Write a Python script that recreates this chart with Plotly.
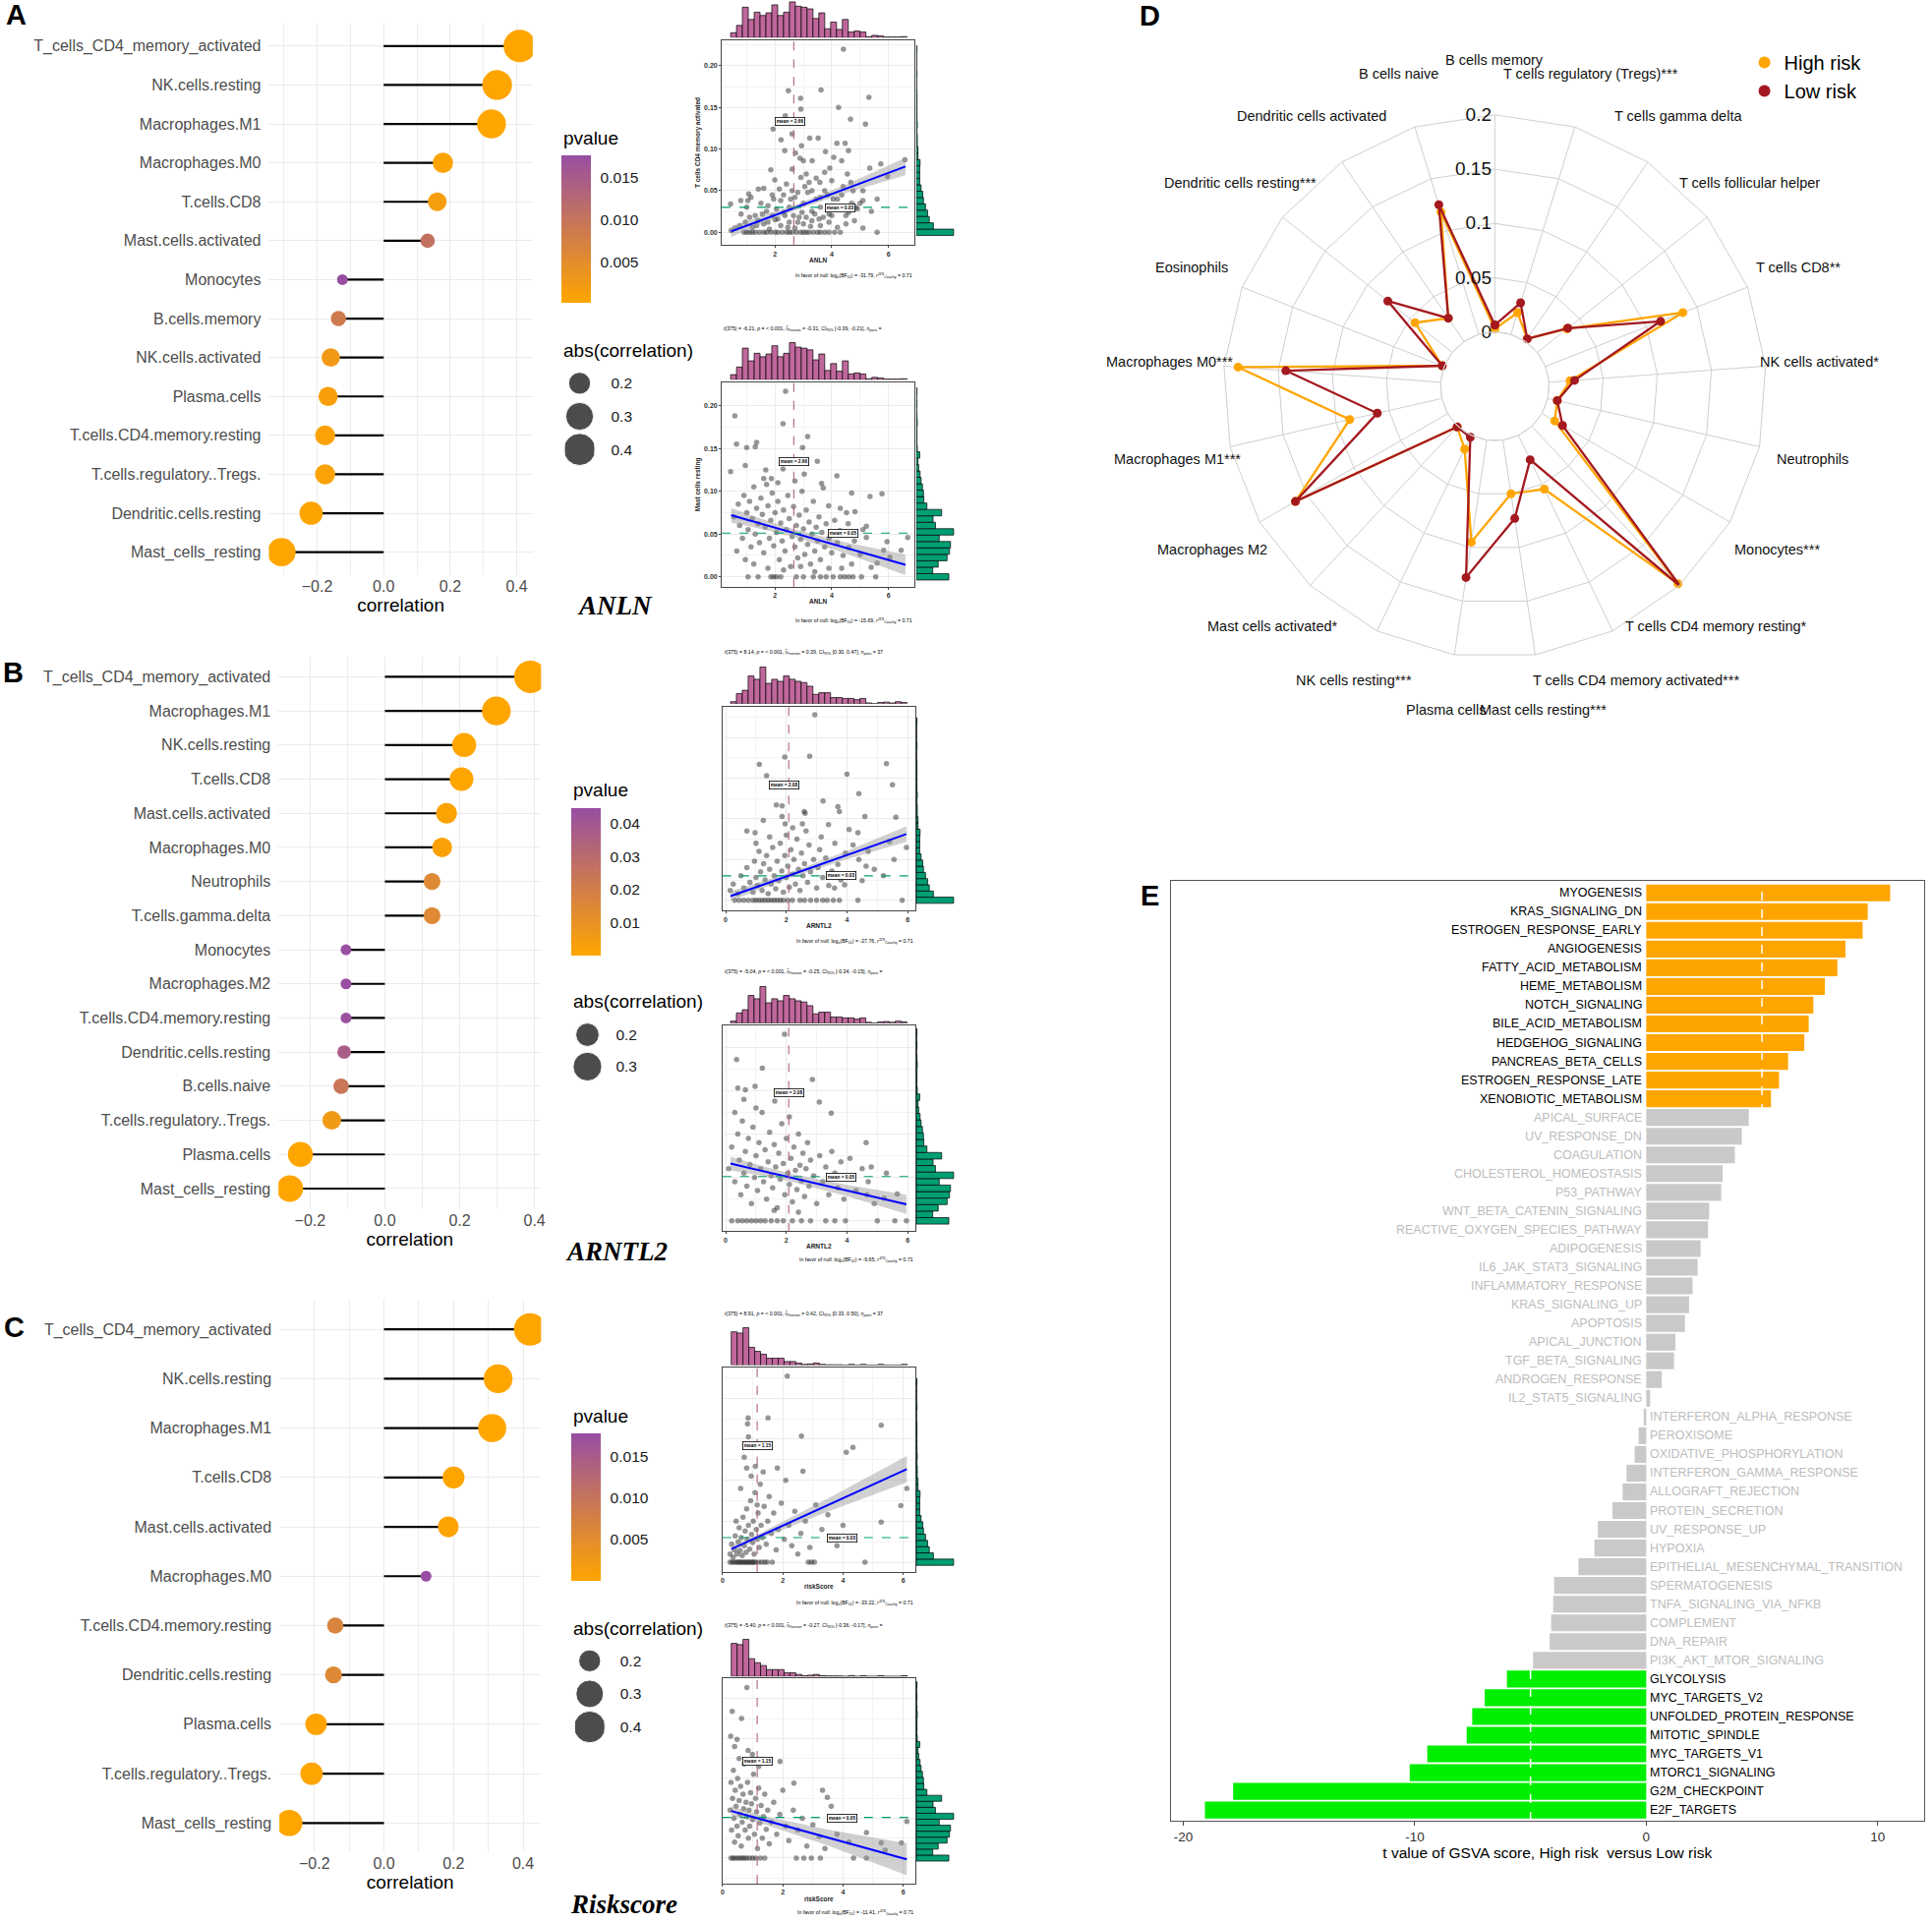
import math
import plotly.graph_objects as go

W, H = 1965, 1955
SANS = "Liberation Sans, Arial, Helvetica, sans-serif"
SERIF = "Liberation Serif, Times New Roman, serif"

ORANGE = "#FFA500"
PURPLE = "#984EA3"
XFILL = "#C0679C"
YFILL = "#009E73"
LOWRISK = "#A3191F"

# ===================== DATA =====================
# ---- lollipop panels (correlation with immune cells) ----
A_cells = ["T_cells_CD4_memory_activated", "NK.cells.resting", "Macrophages.M1", "Macrophages.M0",
           "T.cells.CD8", "Mast.cells.activated", "Monocytes", "B.cells.memory", "NK.cells.activated",
           "Plasma.cells", "T.cells.CD4.memory.resting", "T.cells.regulatory..Tregs.",
           "Dendritic.cells.resting", "Mast_cells_resting"]
A_corr = [0.409, 0.341, 0.324, 0.178, 0.161, 0.132, -0.124, -0.136, -0.159, -0.167, -0.176, -0.176, -0.218, -0.307]
A_pval = [0.0001, 0.0001, 0.0001, 0.0005, 0.0015, 0.0105, 0.0176, 0.0085, 0.0025, 0.0012, 0.0007, 0.0007, 0.0002, 0.0001]

B_cells = ["T_cells_CD4_memory_activated", "Macrophages.M1", "NK.cells.resting", "T.cells.CD8",
           "Mast.cells.activated", "Macrophages.M0", "Neutrophils", "T.cells.gamma.delta", "Monocytes",
           "Macrophages.M2", "T.cells.CD4.memory.resting", "Dendritic.cells.resting", "B.cells.naive",
           "T.cells.regulatory..Tregs.", "Plasma.cells", "Mast_cells_resting"]
B_corr = [0.389, 0.298, 0.212, 0.205, 0.165, 0.153, 0.126, 0.126, -0.104, -0.104, -0.104, -0.109, -0.117, -0.142, -0.226, -0.254]
B_pval = [0.0001, 0.0001, 0.0001, 0.0001, 0.0012, 0.002, 0.0145, 0.0145, 0.0445, 0.044, 0.0435, 0.037, 0.024, 0.006, 0.0001, 0.0001]

C_cells = ["T_cells_CD4_memory_activated", "NK.cells.resting", "Macrophages.M1", "T.cells.CD8",
           "Mast.cells.activated", "Macrophages.M0", "T.cells.CD4.memory.resting", "Dendritic.cells.resting",
           "Plasma.cells", "T.cells.regulatory..Tregs.", "Mast_cells_resting"]
C_corr = [0.420, 0.328, 0.311, 0.200, 0.185, 0.121, -0.140, -0.145, -0.195, -0.208, -0.272]
C_pval = [0.0, 0.0, 0.0, 0.0001, 0.0003, 0.0178, 0.0068, 0.0058, 0.0002, 0.0001, 0.0]

# ---- scatter panels ----
# marginal histograms (bar heights)
ANLN_hist = [15, 37, 92, 55, 77, 67, 75, 99, 67, 77, 108, 95, 92, 87, 58, 75, 27, 47, 25, 55, 17, 20, 17, 3, 7, 5, 2, 2, 2, 3]
ARNTL2_hist = [5, 25, 33, 68, 60, 90, 50, 60, 55, 68, 60, 55, 52, 43, 23, 27, 27, 15, 15, 13, 13, 10, 13, 2, 0, 3, 4, 2, 5, 3]
RISK_hist = [82, 79, 92, 44, 34, 27, 17, 17, 17, 9, 9, 5, 2, 3, 5, 2, 1, 1, 1, 0, 2, 0, 2, 0, 0, 2, 0, 0, 0, 2]
CD4act_hist = [109, 50, 38, 33, 27, 21, 19, 14, 10, 10, 10, 11, 5, 5, 3, 3, 2, 3, 2, 2, 2, 2, 2, 1, 1, 2, 1, 1, 1, 2]
MastRest_hist = [95, 48, 64, 90, 97, 100, 67, 109, 56, 49, 74, 31, 22, 21, 18, 14, 11, 7, 5, 10, 3, 2, 2, 2, 3, 2, 1, 2, 1, 2]
# first bin centre, bin width
ANLN_bins = (0.536, 0.2075)
ARNTL2_bins = (0.257, 0.194)
RISK_bins = (0.385, 0.195)
CD4act_bins = (0.0, 0.0076)
MastRest_bins = (0.0, 0.0075)

A1_x = [4.41, 2.47, 3.62, 5.31, 2.90, 2.91, 4.24, 2.36, 4.66, 5.19, 1.93, 2.60, 2.21, 3.22, 3.52, 2.93, 4.18, 4.47, 2.34, 3.78,
        4.59, 2.88, 3.00, 3.31, 4.07, 4.35, 1.85, 2.60, 3.93, 5.34, 5.73, 6.58, 5.97, 1.99, 2.91, 3.58, 4.55, 4.67, 1.07, 1.41,
        0.79, 0.43, 1.04, 1.60, 2.72, 3.10, 3.45, 3.75, 4.00, 4.75, 5.00, 5.10, 5.60, 2.40, 3.05, 2.30, 1.95, 3.30, 3.85, 4.20,
        4.40, 2.80, 2.55, 1.75, 2.15, 3.60, 4.85, 3.20,
        0.9, 1.0, 1.1, 1.2, 1.3, 1.45, 1.6, 1.7, 1.85, 2.0, 2.1, 2.25, 2.4, 2.5, 2.6, 2.75, 2.9, 3.0, 3.1, 3.2, 3.35, 3.5, 3.6,
        3.75, 3.9, 4.1, 4.3, 5.6,
        0.45, 0.6, 0.75, 0.95, 1.2, 1.4, 1.6, 1.8, 2.0, 2.2, 2.5, 2.7, 3.0, 3.3, 3.6, 3.9, 4.2, 4.5, 4.8, 5.1,
        0.8, 1.0, 1.3, 1.5, 1.7, 1.9, 2.05, 2.2, 2.35, 2.5, 2.7, 2.85, 3.0, 3.15, 3.3, 3.45, 3.6, 3.75, 3.9, 4.05, 4.2, 4.35,
        4.5, 4.7, 4.9, 5.1, 5.4, 1.15, 2.6, 3.55,
        1.1, 1.35, 1.55, 1.75, 1.9, 2.1, 2.3, 2.45, 2.65, 2.8, 2.95, 3.1, 3.25, 3.4, 3.7, 3.85, 4.0, 4.6]
A1_y = [0.220, 0.170, 0.171, 0.162, 0.161, 0.148, 0.150, 0.140, 0.136, 0.130, 0.124, 0.118, 0.111, 0.113, 0.113, 0.104, 0.107,
        0.107, 0.098, 0.097, 0.098, 0.089, 0.086, 0.086, 0.090, 0.086, 0.075, 0.076, 0.077, 0.077, 0.082, 0.087, 0.067, 0.063,
        0.066, 0.060, 0.070, 0.060, 0.046, 0.052, 0.038, 0.034, 0.038, 0.053, 0.095, 0.070, 0.065, 0.072, 0.062, 0.050, 0.035,
        0.050, 0.040, 0.058, 0.055, 0.045, 0.040, 0.050, 0.045, 0.040, 0.055, 0.048, 0.040, 0.032, 0.052, 0.042, 0.030, 0.060,
        0, 0, 0, 0, 0, 0, 0, 0, 0, 0, 0, 0, 0, 0, 0, 0, 0, 0, 0, 0, 0, 0, 0, 0, 0, 0, 0, 0,
        0.002, 0.005, 0.008, 0.012, 0.006, 0.014, 0.010, 0.004, 0.015, 0.008, 0.012, 0.005, 0.010, 0.014, 0.008, 0.012, 0.006,
        0.010, 0.014, 0.005,
        0.022, 0.030, 0.020, 0.035, 0.025, 0.045, 0.028, 0.038, 0.020, 0.030, 0.042, 0.018, 0.035, 0.048, 0.025, 0.040, 0.030,
        0.050, 0.022, 0.040, 0.030, 0.045, 0.020, 0.035, 0.028, 0.038, 0.025, 0.042, 0.050, 0.016,
        0.018, 0.008, 0.022, 0.012, 0.020, 0.016, 0.024, 0.006, 0.020, 0.012, 0.024, 0.018, 0.007, 0.022, 0.018, 0.030, 0.020, 0.024]

A2_x = [2.37, 0.58, 2.28, 3.15, 0.64, 1.35, 1.00, 1.30, 2.97, 3.49, 2.28, 0.95, 0.43, 3.03, 4.18, 3.64, 1.67, 1.87, 4.70, 5.77,
        3.89, 5.35, 4.52, 4.82, 4.29, 4.58, 5.22, 5.22, 5.95, 6.05, 6.68, 5.83, 6.45, 5.60, 5.39, 4.35,
        1.05, 1.4, 1.85, 1.95, 2.05, 2.2, 2.75, 3.0, 3.35, 3.6, 3.8, 4.05, 4.3, 4.45, 4.6, 4.75, 5.05, 5.55,
        0.55, 0.70, 0.75, 0.85, 0.90, 1.00, 1.05, 1.10, 1.15, 1.20, 1.25, 1.30, 1.35, 1.40, 1.45, 1.50, 1.55, 1.60, 1.65, 1.70,
        1.75, 1.80, 1.85, 1.90, 1.95, 2.00, 2.05, 2.10, 2.15, 2.20, 2.25, 2.30, 2.35, 2.40, 2.45, 2.50, 2.55, 2.60, 2.65, 2.70,
        2.75, 2.80, 2.85, 2.90, 2.95, 3.00, 3.05, 3.10, 3.15, 3.20, 3.25, 3.30, 3.35, 3.40, 3.45, 3.50, 3.55, 3.60, 3.65, 3.70,
        3.75, 3.80, 3.90, 4.00, 4.10, 4.20, 4.30, 4.40, 4.50, 4.60, 4.70, 4.80, 5.00, 5.10, 1.60, 2.10, 2.70, 0.65, 0.95, 1.25,
        1.75, 2.30, 2.90, 3.40, 3.90]
A2_y = [0.217, 0.188, 0.179, 0.164, 0.155, 0.157, 0.151, 0.152, 0.151, 0.135, 0.126, 0.130, 0.123, 0.120, 0.118, 0.109, 0.125,
        0.115, 0.098, 0.097, 0.083, 0.094, 0.075, 0.076, 0.054, 0.062, 0.059, 0.046, 0.041, 0.023, 0.046, 0.031, 0.031, 0.016,
        0.011, 0.010,
        0, 0, 0, 0, 0, 0, 0, 0, 0, 0, 0, 0, 0, 0, 0, 0, 0, 0,
        0.070, 0.085, 0.060, 0.045, 0.095, 0.075, 0.055, 0.088, 0.035, 0.068, 0.105, 0.050, 0.080, 0.062, 0.040, 0.092, 0.073,
        0.028, 0.058, 0.108, 0.083, 0.045, 0.066, 0.098, 0.036, 0.075, 0.052, 0.088, 0.020, 0.063, 0.042, 0.078, 0.030, 0.055,
        0.095, 0.068, 0.012, 0.047, 0.082, 0.035, 0.060, 0.022, 0.072, 0.044, 0.100, 0.056, 0.026, 0.078, 0.038, 0.064, 0.015,
        0.050, 0.088, 0.030, 0.058, 0.042, 0.070, 0.020, 0.052, 0.104, 0.035, 0.062, 0.045, 0.028, 0.066, 0.040, 0.080, 0.025,
        0.050, 0.034, 0.015, 0.042, 0.026, 0.055, 0.115, 0.110, 0.112, 0.030, 0.020, 0.015, 0.010, 0.008, 0.012, 0.006, 0.010]

B1_x = [2.94, 1.95, 2.77, 1.11, 5.30, 4.00, 1.35, 5.50, 4.39, 1.67, 1.86, 3.21, 3.70, 2.62, 1.24, 1.86, 2.59, 3.75, 4.59, 5.61,
        0.70, 0.97, 1.96, 2.21, 2.53, 3.39, 4.07, 4.36, 5.96, 5.55, 4.63, 4.39, 3.92, 3.59,
        0.3, 0.45, 0.6, 0.75, 0.9, 1.0, 1.1, 1.2, 1.3, 1.4, 1.5, 1.6, 1.7, 1.8, 1.9, 2.05, 2.2, 2.45, 2.6, 2.8, 3.0, 3.2, 3.35,
        3.55, 3.75, 4.36, 5.82,
        0.15, 0.25, 0.40, 0.50, 0.60, 0.70, 0.80, 0.90, 0.95, 1.00, 1.05, 1.10, 1.15, 1.20, 1.25, 1.30, 1.35, 1.40, 1.45, 1.50,
        1.55, 1.60, 1.65, 1.70, 1.75, 1.80, 1.85, 1.90, 1.95, 2.00, 2.05, 2.10, 2.15, 2.20, 2.25, 2.30, 2.35, 2.40, 2.45, 2.50,
        2.55, 2.60, 2.70, 2.75, 2.80, 2.90, 3.00, 3.05, 3.10, 3.20, 3.30, 3.40, 3.50, 3.60, 3.70, 3.80, 3.95, 4.10, 4.20, 4.50,
        4.70, 4.90, 5.20, 5.40, 1.00, 1.45, 2.00, 2.65, 3.15]
B1_y = [0.228, 0.176, 0.177, 0.167, 0.168, 0.155, 0.153, 0.142, 0.131, 0.117, 0.116, 0.122, 0.115, 0.107, 0.098, 0.103, 0.109,
        0.109, 0.103, 0.102, 0.085, 0.083, 0.094, 0.089, 0.094, 0.093, 0.087, 0.083, 0.065, 0.050, 0.042, 0.050, 0.019, 0.015,
        0, 0, 0, 0, 0, 0, 0, 0, 0, 0, 0, 0, 0, 0, 0, 0, 0, 0, 0, 0, 0, 0, 0, 0, 0, 0, 0,
        0.012, 0.020, 0.008, 0.030, 0.015, 0.040, 0.022, 0.010, 0.048, 0.028, 0.018, 0.060, 0.035, 0.012, 0.045, 0.025, 0.055,
        0.008, 0.038, 0.020, 0.065, 0.030, 0.014, 0.048, 0.024, 0.070, 0.036, 0.010, 0.055, 0.028, 0.042, 0.016, 0.062, 0.032,
        0.050, 0.020, 0.075, 0.038, 0.012, 0.058, 0.030, 0.045, 0.022, 0.068, 0.035, 0.050, 0.015, 0.040, 0.062, 0.028, 0.052,
        0.018, 0.036, 0.070, 0.044, 0.025, 0.058, 0.032, 0.068, 0.024, 0.060, 0.038, 0.030, 0.072, 0.070, 0.078, 0.080, 0.085,
        0.078]

B2_x = [1.94, 0.36, 1.21, 2.86, 0.40, 0.65, 0.97, 3.09, 1.62, 3.48, 4.63, 4.80, 4.66, 5.23, 5.66,
        0.2, 0.4, 0.55, 0.7, 0.85, 1.0, 1.15, 1.3, 1.5, 1.7, 1.9, 2.2, 2.5, 2.8, 3.3, 3.6, 3.95, 5.0, 5.58, 5.96,
        0.10, 0.20, 0.30, 0.40, 0.45, 0.50, 0.55, 0.60, 0.65, 0.70, 0.75, 0.80, 0.85, 0.90, 0.95, 1.00, 1.05, 1.10, 1.15, 1.20,
        1.25, 1.30, 1.35, 1.40, 1.45, 1.50, 1.55, 1.60, 1.65, 1.70, 1.75, 1.80, 1.85, 1.90, 1.95, 2.00, 2.05, 2.10, 2.15, 2.20,
        2.25, 2.30, 2.35, 2.40, 2.45, 2.50, 2.55, 2.60, 2.65, 2.70, 2.75, 2.80, 2.90, 3.00, 3.10, 3.20, 3.30, 3.40, 3.50, 3.60,
        3.70, 3.80, 3.90, 4.00, 4.10, 4.30, 4.50, 4.70, 4.90, 5.30, 1.00, 0.60, 2.10, 0.30, 1.60, 2.40]
B2_y = [0.215, 0.186, 0.176, 0.163, 0.153, 0.151, 0.155, 0.137, 0.138, 0.124, 0.090, 0.062, 0.030, 0.026, 0.031,
        0, 0, 0, 0, 0, 0, 0, 0, 0, 0, 0, 0, 0, 0, 0, 0, 0, 0, 0, 0,
        0.060, 0.085, 0.045, 0.100, 0.070, 0.030, 0.115, 0.055, 0.080, 0.040, 0.095, 0.065, 0.020, 0.108, 0.050, 0.075, 0.035,
        0.090, 0.060, 0.125, 0.045, 0.082, 0.025, 0.068, 0.102, 0.052, 0.038, 0.088, 0.062, 0.015, 0.078, 0.048, 0.112, 0.066,
        0.030, 0.095, 0.055, 0.042, 0.072, 0.022, 0.085, 0.058, 0.036, 0.100, 0.064, 0.046, 0.078, 0.028, 0.060, 0.090, 0.040,
        0.070, 0.052, 0.020, 0.075, 0.045, 0.062, 0.030, 0.080, 0.055, 0.038, 0.068, 0.025, 0.050, 0.072, 0.035, 0.060, 0.045,
        0.020, 0.055, 0.130, 0.140, 0.120, 0.125, 0.012, 0.010]

C1_x = [2.15, 0.85, 1.51, 0.83, 5.27, 2.62, 0.86, 4.33, 4.11, 0.72, 1.09, 0.80, 1.82, 2.67, 6.12, 5.92, 5.27, 4.73, 3.05,
        0.25, 0.32, 0.38, 0.45, 0.5, 0.55, 0.6, 0.65, 0.7, 0.75, 0.8, 0.85, 0.9, 0.95, 1.0, 1.05, 1.1, 1.2, 1.3, 1.4, 1.48,
        1.65, 2.85, 2.95,
        0.25, 0.30, 0.35, 0.40, 0.42, 0.48, 0.52, 0.55, 0.58, 0.62, 0.65, 0.68, 0.72, 0.75, 0.78, 0.80, 0.82, 0.86, 0.90, 0.93,
        0.96, 1.00, 1.02, 1.05, 1.08, 1.12, 1.15, 1.18, 1.22, 1.25, 1.28, 1.32, 1.38, 1.45, 1.50, 1.55, 1.62, 1.70, 1.78, 1.85,
        1.95, 2.05, 2.10, 2.20, 2.30, 2.40, 2.50, 2.60, 2.75, 2.90, 3.10, 3.30, 3.50, 3.80, 4.00, 0.60, 0.95, 1.15, 1.35, 0.45]
C1_y = [0.227, 0.176, 0.176, 0.169, 0.167, 0.154, 0.153, 0.140, 0.134, 0.128, 0.117, 0.115, 0.115, 0.111, 0.090, 0.069, 0.049,
        0.0, 0.0,
        0, 0, 0, 0, 0, 0, 0, 0, 0, 0, 0, 0, 0, 0, 0, 0, 0, 0, 0, 0, 0, 0, 0, 0,
        0.010, 0.022, 0.006, 0.015, 0.032, 0.010, 0.025, 0.042, 0.014, 0.030, 0.008, 0.055, 0.020, 0.038, 0.012, 0.065, 0.028,
        0.045, 0.016, 0.075, 0.034, 0.024, 0.050, 0.010, 0.085, 0.040, 0.028, 0.060, 0.018, 0.095, 0.045, 0.030, 0.068, 0.022,
        0.050, 0.080, 0.035, 0.060, 0.015, 0.040, 0.072, 0.028, 0.100, 0.045, 0.020, 0.062, 0.010, 0.035, 0.050, 0.018, 0.070,
        0.040, 0.058, 0.020, 0.045, 0.090, 0.105, 0.070, 0.110, 0.050]

C2_x = [0.81, 0.32, 0.63, 0.27, 0.48, 0.99, 1.91, 2.37, 3.32, 3.48, 3.61, 6.12, 4.78, 5.27, 5.94, 3.21,
        0.28, 0.35, 0.42, 0.5, 0.58, 0.65, 0.72, 0.8, 0.9, 1.0, 1.1, 1.25, 1.4, 2.45, 2.7, 2.95, 3.25, 4.35, 4.78,
        0.25, 0.28, 0.30, 0.33, 0.36, 0.38, 0.40, 0.42, 0.45, 0.48, 0.50, 0.52, 0.55, 0.58, 0.60, 0.62, 0.65, 0.68, 0.70, 0.72,
        0.75, 0.78, 0.80, 0.83, 0.86, 0.88, 0.90, 0.93, 0.96, 1.00, 1.03, 1.06, 1.10, 1.13, 1.16, 1.20, 1.24, 1.28, 1.32, 1.36,
        1.40, 1.45, 1.50, 1.55, 1.62, 1.70, 1.80, 1.90, 2.00, 2.10, 2.20, 2.35, 2.50, 2.65, 2.80, 3.00, 3.40, 3.80, 4.20, 5.40,
        0.55, 0.85, 0.40, 1.20]
C2_y = [0.214, 0.184, 0.175, 0.153, 0.149, 0.130, 0.121, 0.094, 0.085, 0.076, 0.065, 0.046, 0.032, 0.019, 0.019, 0.027,
        0, 0, 0, 0, 0, 0, 0, 0, 0, 0, 0, 0, 0, 0, 0, 0, 0, 0, 0,
        0.060, 0.095, 0.035, 0.075, 0.110, 0.050, 0.020, 0.085, 0.065, 0.040, 0.100, 0.028, 0.072, 0.055, 0.090, 0.015, 0.045,
        0.080, 0.062, 0.118, 0.035, 0.070, 0.052, 0.095, 0.025, 0.060, 0.040, 0.082, 0.068, 0.048, 0.105, 0.030, 0.075, 0.058,
        0.012, 0.088, 0.044, 0.066, 0.025, 0.052, 0.080, 0.036, 0.060, 0.018, 0.045, 0.070, 0.030, 0.055, 0.085, 0.040, 0.022,
        0.060, 0.035, 0.050, 0.015, 0.042, 0.012, 0.030, 0.020, 0.010, 0.125, 0.135, 0.140, 0.115]

# regression fits (x knots, fitted values, CI half widths)
A1_fit = ([0.45, 1.5, 2.66, 4.5, 6.6], [0.001, 0.0143, 0.029, 0.0523, 0.079], [0.0065, 0.0045, 0.0032, 0.005, 0.0105])
A2_fit = ([0.45, 1.5, 2.66, 4.5, 6.6], [0.072, 0.0621, 0.0512, 0.0338, 0.014], [0.0085, 0.006, 0.0045, 0.0065, 0.012])
B1_fit = ([0.16, 1.2, 2.08, 4.0, 5.96], [0.005, 0.0187, 0.0303, 0.0555, 0.0813], [0.006, 0.0042, 0.0033, 0.005, 0.0095])
B2_fit = ([0.16, 1.2, 2.08, 4.0, 5.96], [0.066, 0.0576, 0.0504, 0.0349, 0.019], [0.008, 0.0055, 0.0045, 0.0065, 0.011])
C1_fit = ([0.29, 0.8, 1.15, 3.5, 6.12], [0.016, 0.0245, 0.0304, 0.0697, 0.1135], [0.004, 0.0035, 0.0033, 0.008, 0.016])
C2_fit = ([0.29, 0.8, 1.15, 3.5, 6.12], [0.059, 0.0537, 0.0501, 0.0257, -0.0015], [0.006, 0.005, 0.0048, 0.01, 0.02])

MEAN_ANLN, MEAN_ARNTL2, MEAN_RISK = 2.66, 2.08, 1.15
MEAN_CD4, MEAN_MAST = 0.030, 0.051

SUBTITLES = {
    "A2": "<i>t</i>(375) = -6.21, <i>p</i> = < 0.001, <i>r&#770;</i><sub>Pearson</sub> = -0.31, CI<sub>95%</sub> [-0.39, -0.21], <i>n</i><sub>pairs</sub> =",
    "B1": "<i>t</i>(375) = 8.14, <i>p</i> = < 0.001, <i>r&#770;</i><sub>Pearson</sub> = 0.39, CI<sub>95%</sub> [0.30, 0.47], <i>n</i><sub>pairs</sub> = 37",
    "B2": "<i>t</i>(375) = -5.04, <i>p</i> = < 0.001, <i>r&#770;</i><sub>Pearson</sub> = -0.25, CI<sub>95%</sub> [-0.34, -0.15], <i>n</i><sub>pairs</sub> =",
    "C1": "<i>t</i>(375) = 8.91, <i>p</i> = < 0.001, <i>r&#770;</i><sub>Pearson</sub> = 0.42, CI<sub>95%</sub> [0.33, 0.50], <i>n</i><sub>pairs</sub> = 37",
    "C2": "<i>t</i>(375) = -5.40, <i>p</i> = < 0.001, <i>r&#770;</i><sub>Pearson</sub> = -0.27, CI<sub>95%</sub> [-0.36, -0.17], <i>n</i><sub>pairs</sub> =",
}
BF01 = {"A1": "-31.79", "A2": "-15.69", "B1": "-27.76", "B2": "-9.65", "C1": "-33.22", "C2": "-11.41"}

# ---- radar (D) ----
RADAR_CATS = ["B cells memory", "T cells regulatory (Tregs)***", "T cells gamma delta", "T cells follicular helper",
              "T cells CD8**", "NK cells activated*", "Neutrophils", "Monocytes***", "T cells CD4 memory resting*",
              "T cells CD4 memory activated***", "Mast cells resting***", "Plasma cells", "NK cells resting***",
              "Mast cells activated*", "Macrophages M2", "Macrophages M1***", "Macrophages M0***", "Eosinophils",
              "Dendritic cells resting***", "Dendritic cells activated", "B cells naive"]
HIGH_RISK = [0.003, 0.021, 0.003, 0.035, 0.136, 0.0195, 0.009, 0.0137, 0.198, 0.055, 0.050, 0.095, 0.014, 0.001,
             0.162, 0.087, 0.187, 0.002, 0.044, 0.026, 0.118]
LOW_RISK = [0.0065, 0.0305, 0.003, 0.036, 0.114, 0.0236, 0.009, 0.022, 0.201, 0.025, 0.073, 0.128, 0.002, 0.001,
            0.162, 0.061, 0.143, 0.002, 0.076, 0.026, 0.125]
RADAR_TICKS = [0, 0.05, 0.1, 0.15, 0.2]

# ---- GSVA bars (E) ----
E_names = ["MYOGENESIS", "KRAS_SIGNALING_DN", "ESTROGEN_RESPONSE_EARLY", "ANGIOGENESIS", "FATTY_ACID_METABOLISM",
           "HEME_METABOLISM", "NOTCH_SIGNALING", "BILE_ACID_METABOLISM", "HEDGEHOG_SIGNALING", "PANCREAS_BETA_CELLS",
           "ESTROGEN_RESPONSE_LATE", "XENOBIOTIC_METABOLISM", "APICAL_SURFACE", "UV_RESPONSE_DN", "COAGULATION",
           "CHOLESTEROL_HOMEOSTASIS", "P53_PATHWAY", "WNT_BETA_CATENIN_SIGNALING", "REACTIVE_OXYGEN_SPECIES_PATHWAY",
           "ADIPOGENESIS", "IL6_JAK_STAT3_SIGNALING", "INFLAMMATORY_RESPONSE", "KRAS_SIGNALING_UP", "APOPTOSIS",
           "APICAL_JUNCTION", "TGF_BETA_SIGNALING", "ANDROGEN_RESPONSE", "IL2_STAT5_SIGNALING",
           "INTERFERON_ALPHA_RESPONSE", "PEROXISOME", "OXIDATIVE_PHOSPHORYLATION", "INTERFERON_GAMMA_RESPONSE",
           "ALLOGRAFT_REJECTION", "PROTEIN_SECRETION", "UV_RESPONSE_UP", "HYPOXIA", "EPITHELIAL_MESENCHYMAL_TRANSITION",
           "SPERMATOGENESIS", "TNFA_SIGNALING_VIA_NFKB", "COMPLEMENT", "DNA_REPAIR", "PI3K_AKT_MTOR_SIGNALING",
           "GLYCOLYSIS", "MYC_TARGETS_V2", "UNFOLDED_PROTEIN_RESPONSE", "MITOTIC_SPINDLE", "MYC_TARGETS_V1",
           "MTORC1_SIGNALING", "G2M_CHECKPOINT", "E2F_TARGETS"]
E_t = [10.54, 9.57, 9.35, 8.61, 8.26, 7.72, 7.22, 7.02, 6.83, 6.13, 5.74, 5.39, 4.43, 4.13, 3.83, 3.30, 3.24, 2.72, 2.67,
       2.35, 2.22, 2.00, 1.85, 1.67, 1.26, 1.20, 0.67, 0.17, -0.11, -0.33, -0.50, -0.85, -1.02, -1.46, -2.09, -2.24, -2.93,
       -3.98, -4.02, -4.11, -4.17, -4.89, -6.02, -6.98, -7.52, -7.76, -9.46, -10.22, -17.85, -19.07]
E_cutoff = 5

# ===================== FIGURE =====================
fig = go.Figure()
layout = dict(width=W, height=H, margin=dict(l=0, r=0, t=0, b=0), paper_bgcolor="white", plot_bgcolor="white",
              font=dict(family=SANS, color="black"), showlegend=True, hovermode=False)
ann = []
shapes = []
n_axes = [0]


def dom_x(a, b):
    return [a / W, b / W]


def dom_y(top, bottom):
    return [1 - bottom / H, 1 - top / H]


def new_axes(xd, yd, xo, yo):
    n_axes[0] += 1
    s = "" if n_axes[0] == 1 else str(n_axes[0])
    layout["xaxis" + s] = dict(domain=xd, anchor="y" + s, **xo)
    layout["yaxis" + s] = dict(domain=yd, anchor="x" + s, **yo)
    return "x" + s, "y" + s


def label(x, y, s, size, color="black", xanchor="center", yanchor="middle", family=SANS, **kw):
    ann.append(dict(x=x / W, y=1 - y / H, xref="paper", yref="paper", text=s, showarrow=False,
                    xanchor=xanchor, yanchor=yanchor, font=dict(size=size, color=color, family=family), **kw))


# ---------- lollipop panels ----------
def size_map(vals, amin, amax):
    out = []
    for v in vals:
        f = (abs(v) - amin) / (amax - amin)
        out.append(11 + 22 * math.sqrt(min(max(f, 0), 1)))
    return out


LOLLI_GEO = {
    "A": dict(x=(272.3, 541.5), y=(23.1, 585.4), xr=[-0.345, 0.448], cb_x=570.5, cb_top=158.4, cb_len=150,
              cmin=0.00006, cmax=0.0176, cb_ticks=[0.005, 0.010, 0.015], pv_y=140.8,
              lg_title_y=356.7, lg_x=589.3, lg_dom=(373, 474), lg_r=[0.45, 0.15], lg_vals=[0.2, 0.3, 0.4], lg_off=16,
              gene="ANLN", gene_xy=(625, 616), letter="A", letter_xy=(15, 15)),
    "B": dict(x=(282.1, 550.0), y=(667.6, 1229.8), xr=[-0.2845, 0.4176], cb_x=580.4, cb_top=821.8, cb_len=150,
              cmin=0.0001, cmax=0.0448, cb_ticks=[0.01, 0.02, 0.03, 0.04], pv_y=803.3,
              lg_title_y=1018.8, lg_x=597.3, lg_dom=(1036.3, 1101.1), lg_r=[0.35, 0.15], lg_vals=[0.2, 0.3], lg_off=13,
              gene="ARNTL2", gene_xy=(627, 1273), letter="B", letter_xy=(12, 684)),
    "C": dict(x=(283.0, 550.0), y=(1322.1, 1884.4), xr=[-0.3006, 0.4515], cb_x=580.4, cb_top=1457.9, cb_len=150,
              cmin=0.0, cmax=0.01783, cb_ticks=[0.005, 0.010, 0.015], pv_y=1440,
              lg_title_y=1656.3, lg_x=599.6, lg_dom=(1672.5, 1773.4), lg_r=[0.45, 0.15], lg_vals=[0.2, 0.3, 0.4], lg_off=15,
              gene="Riskscore", gene_xy=(634, 1937), letter="C", letter_xy=(13, 1350)),
}


def lollipop(key, cells, corr, pval, cax):
    g = LOLLI_GEO[key]
    n = len(cells)
    amin = min(abs(v) for v in corr)
    amax = max(abs(v) for v in corr)
    xa, ya = new_axes(
        dom_x(*g["x"]), dom_y(*g["y"]),
        dict(range=g["xr"], tickmode="linear", tick0=0, dtick=0.2, tickformat=".1f", showgrid=True,
             gridcolor="#EBEBEB", gridwidth=1.4,
             minor=dict(tickmode="linear", tick0=0, dtick=0.1, showgrid=True, gridcolor="#EEEEEE", gridwidth=0.8),
             zeroline=False, showline=False, ticks="", tickfont=dict(size=16, color="#4D4D4D"),
             title=dict(text="correlation", font=dict(size=19, color="black"), standoff=2)),
        dict(type="category", categoryorder="array", categoryarray=cells, range=[n - 0.4, -0.6], showgrid=True,
             gridcolor="#EBEBEB", gridwidth=1.4, zeroline=False, showline=False, ticks="",
             tickfont=dict(size=16, color="#4D4D4D"), ticklabelstandoff=7))
    sx, sy = [], []
    for c, v in zip(cells, corr):
        sx += [0, v, None]
        sy += [c, c, None]
    fig.add_trace(go.Scatter(x=sx, y=sy, mode="lines", line=dict(color="black", width=2.2), xaxis=xa, yaxis=ya,
                             showlegend=False, hoverinfo="skip"))
    fig.add_trace(go.Scatter(x=corr, y=cells, mode="markers",
                             marker=dict(size=size_map(corr, amin, amax), color=pval, coloraxis=cax, line=dict(width=0),
                                         opacity=1),
                             xaxis=xa, yaxis=ya, showlegend=False))
    layout[cax] = dict(cmin=g["cmin"], cmax=g["cmax"], colorscale=[[0, ORANGE], [1, PURPLE]],
                       colorbar=dict(x=g["cb_x"] / W, xanchor="left", y=1 - g["cb_top"] / H, yanchor="top",
                                     len=g["cb_len"], lenmode="pixels", thickness=30, thicknessmode="pixels",
                                     outlinewidth=0, xpad=0, ypad=0, tickmode="array", tickvals=g["cb_ticks"],
                                     ticktext=[("%.3f" % t) if g["cmax"] < 0.02 else ("%.2f" % t) for t in g["cb_ticks"]],
                                     ticks="outside", ticklen=7, tickcolor="rgba(255,255,255,0)", tickwidth=1,
                                     tickfont=dict(size=15.5, color="#1A1A1A")))
    label(g["cb_x"], g["pv_y"], "pvalue", 19, xanchor="left")
    label(g["cb_x"], g["lg_title_y"], "abs(correlation)", 19, xanchor="left")
    # size legend on its own small axis
    lv = g["lg_vals"]
    lx, ly = new_axes(dom_x(g["lg_x"] - 15, g["lg_x"] + 15), dom_y(*g["lg_dom"]),
                      dict(range=[-1, 1], visible=False, fixedrange=True),
                      dict(range=g["lg_r"], side="right", tickmode="array", tickvals=lv,
                           ticktext=["%.1f" % v for v in lv], showgrid=False, zeroline=False, showline=False, ticks="",
                           tickfont=dict(size=15.5, color="#1A1A1A"), ticklabelstandoff=g["lg_off"]))
    fig.add_trace(go.Scatter(x=[0] * len(lv), y=lv, mode="markers",
                             marker=dict(size=size_map(lv, amin, amax), color="black"), xaxis=lx, yaxis=ly,
                             showlegend=False))
    label(g["gene_xy"][0], g["gene_xy"][1], "<b><i>%s</i></b>" % g["gene"], 27, family=SERIF)
    label(g["letter_xy"][0], g["letter_xy"][1], "<b>%s</b>" % g["letter"], 29)


lollipop("A", A_cells, A_corr, A_pval, "coloraxis")
lollipop("B", B_cells, B_corr, B_pval, "coloraxis2")
lollipop("C", C_cells, C_corr, C_pval, "coloraxis3")

# ---------- scatter panels ----------
SC_GEO = {
    "A1": dict(px=(734.3, 931.0), py=(40.7, 249.3), top=(0.5, 38.3), xr=[0.118, 6.92], yr=[-0.0154, 0.231],
               show_y=True, sub_y=None, cap_y=280.0),
    "A2": dict(px=(734.3, 931.0), py=(389.0, 596.7), top=(347.0, 386.3), xr=[0.118, 6.92], yr=[-0.0115, 0.2272],
               show_y=True, sub_y=335.0, cap_y=631.7),
    "B1": dict(px=(735.0, 931.7), py=(718.7, 926.2), top=(677.0, 715.8), xr=[-0.107, 6.25], yr=[-0.0127, 0.238],
               show_y=False, sub_y=663.1, cap_y=957.8),
    "B2": dict(px=(735.0, 931.7), py=(1043.2, 1252.4), top=(1002.0, 1040.7), xr=[-0.107, 6.25], yr=[-0.012, 0.225],
               show_y=False, sub_y=988.5, cap_y=1281.8),
    "C1": dict(px=(735.0, 931.7), py=(1390.6, 1598.7), top=(1349.0, 1388.6), xr=[-0.005, 6.4], yr=[-0.0116, 0.238],
               show_y=False, sub_y=1336.8, cap_y=1630.0),
    "C2": dict(px=(735.0, 931.7), py=(1707.3, 1916.1), top=(1666.0, 1705.2), xr=[-0.005, 6.4], yr=[-0.0322, 0.2253],
               show_y=False, sub_y=1653.0, cap_y=1945.4),
}
RIGHT_X = (932.8, 972.0)
MEAN_LAB = {
    "A1": ((2.53, 0.1337), (4.29, 0.0296)), "A2": ((2.65, 0.135), (4.41, 0.0506)),
    "B1": ((1.92, 0.141), (3.82, 0.030)), "B2": ((2.10, 0.148), (3.82, 0.050)),
    "C1": ((1.15, 0.142), (3.97, 0.030)), "C2": ((1.15, 0.121), (3.97, 0.050)),
}


def scatter_panel(key, xs, ys, xhist, xbins, yhist, ybins, fit, mx, my, xtitle, ytitle):
    g = SC_GEO[key]
    tickf = dict(size=7, color="#333333", weight="bold")
    yopts = dict(range=g["yr"], tickmode="linear", tick0=0, dtick=0.05, tickformat=".2f", showgrid=True,
                 gridcolor="#EBEBEB", gridwidth=0.6,
                 minor=dict(tickmode="linear", tick0=0, dtick=0.025, showgrid=True, gridcolor="#F3F3F3", gridwidth=0.4),
                 zeroline=False, showline=True, mirror=True, linecolor="#444444", linewidth=0.9,
                 ticks="outside" if g["show_y"] else "", ticklen=2, tickcolor="#444444", tickwidth=0.6,
                 showticklabels=g["show_y"], tickfont=tickf)
    if g["show_y"]:
        yopts["title"] = dict(text="<b>%s</b>" % ytitle, font=dict(size=6.5, color="#222"), standoff=2)
    xa, ya = new_axes(
        dom_x(*g["px"]), dom_y(*g["py"]),
        dict(range=g["xr"], tickmode="linear", tick0=0, dtick=2, showgrid=True, gridcolor="#EBEBEB", gridwidth=0.6,
             minor=dict(tickmode="linear", tick0=0, dtick=1, showgrid=True, gridcolor="#F3F3F3", gridwidth=0.4),
             zeroline=False, showline=True, mirror=True, linecolor="#444444", linewidth=0.9, ticks="outside",
             ticklen=2, tickcolor="#444444", tickwidth=0.6, tickfont=tickf,
             title=dict(text="<b>%s</b>" % xtitle, font=dict(size=6.5, color="#222"), standoff=1)),
        yopts)
    # points
    fig.add_trace(go.Scatter(x=xs, y=ys, mode="markers",
                             marker=dict(size=5.5, color="rgba(45,45,45,0.5)", line=dict(width=0)),
                             xaxis=xa, yaxis=ya, showlegend=False, cliponaxis=True))
    # confidence band + fit
    fx, fy, fh = fit
    up = [a + b for a, b in zip(fy, fh)]
    lo = [a - b for a, b in zip(fy, fh)]
    fig.add_trace(go.Scatter(x=fx + fx[::-1], y=up + lo[::-1], fill="toself", fillcolor="rgba(150,150,150,0.45)",
                             line=dict(width=0), mode="lines", xaxis=xa, yaxis=ya, showlegend=False,
                             hoverinfo="skip"))
    fig.add_trace(go.Scatter(x=fx, y=fy, mode="lines", line=dict(color="#0000FF", width=2), xaxis=xa, yaxis=ya,
                             showlegend=False))
    # centrality lines
    shapes.append(dict(type="line", xref=xa, yref=ya + " domain", x0=mx, x1=mx, y0=0, y1=1,
                       line=dict(color="#B06080", width=1.1, dash="dash")))
    shapes.append(dict(type="line", xref=xa + " domain", yref=ya, x0=0, x1=1, y0=my, y1=my,
                       line=dict(color=YFILL, width=1.1, dash="dash")))
    (lx1, ly1), (lx2, ly2) = MEAN_LAB[key]
    for (lx, ly, txt) in [(lx1, ly1, "mean = %.2f" % mx), (lx2, ly2, "mean = %.2f" % my)]:
        ann.append(dict(x=lx, y=ly, xref=xa, yref=ya, text="<b>%s</b>" % txt, showarrow=False,
                        font=dict(size=4.8, color="black"), bgcolor="white", bordercolor="black", borderwidth=0.8,
                        borderpad=1))
    # top histogram
    tx, ty = new_axes(dom_x(*g["px"]), dom_y(*g["top"]),
                      dict(range=g["xr"], visible=False), dict(range=[0, max(xhist) * 1.04], visible=False))
    c0, w = xbins
    fig.add_trace(go.Bar(x=[c0 + i * w for i in range(len(xhist))], y=xhist, width=w,
                         marker=dict(color=XFILL, line=dict(color="black", width=0.7)), xaxis=tx, yaxis=ty,
                         showlegend=False))
    # right histogram
    rx, ry = new_axes(dom_x(*RIGHT_X), dom_y(*g["py"]),
                      dict(range=[0, max(yhist) * 1.03], visible=False), dict(range=g["yr"], visible=False))
    c0, w = ybins
    fig.add_trace(go.Bar(y=[c0 + i * w for i in range(len(yhist))], x=yhist, width=w, orientation="h",
                         marker=dict(color=YFILL, line=dict(color="black", width=0.7)), xaxis=rx, yaxis=ry,
                         showlegend=False))
    # subtitle / caption
    if g["sub_y"] is not None:
        label(g["px"][0], g["sub_y"], SUBTITLES[key], 5.2, xanchor="left")
    cap = ("In favor of null: log<sub>e</sub>(BF<sub>01</sub>) = %s, <i>r</i><sup>JZS</sup><sub>Cauchy</sub> = 0.71"
           % BF01[key])
    label(g["px"][1], g["cap_y"], cap, 5.2, xanchor="right")


scatter_panel("A1", A1_x, A1_y, ANLN_hist, ANLN_bins, CD4act_hist, CD4act_bins, A1_fit, MEAN_ANLN, MEAN_CD4,
              "ANLN", "T cells CD4 memory activated")
scatter_panel("A2", A2_x, A2_y, ANLN_hist, ANLN_bins, MastRest_hist, MastRest_bins, A2_fit, MEAN_ANLN, MEAN_MAST,
              "ANLN", "Mast cells resting")
scatter_panel("B1", B1_x, B1_y, ARNTL2_hist, ARNTL2_bins, CD4act_hist, CD4act_bins, B1_fit, MEAN_ARNTL2, MEAN_CD4,
              "ARNTL2", "")
scatter_panel("B2", B2_x, B2_y, ARNTL2_hist, ARNTL2_bins, MastRest_hist, MastRest_bins, B2_fit, MEAN_ARNTL2, MEAN_MAST,
              "ARNTL2", "")
scatter_panel("C1", C1_x, C1_y, RISK_hist, RISK_bins, CD4act_hist, CD4act_bins, C1_fit, MEAN_RISK, MEAN_CD4,
              "riskScore", "")
scatter_panel("C2", C2_x, C2_y, RISK_hist, RISK_bins, MastRest_hist, MastRest_bins, C2_fit, MEAN_RISK, MEAN_MAST,
              "riskScore", "")

# ---------- radar (D) ----------
RAD_CX, RAD_CY, RAD_R = 1523.0, 393.0, 277.0
HOLE = 0.2
layout["polar"] = dict(
    domain=dict(x=dom_x(RAD_CX - RAD_R, RAD_CX + RAD_R), y=dom_y(RAD_CY - RAD_R, RAD_CY + RAD_R)),
    hole=HOLE, gridshape="linear", bgcolor="white",
    radialaxis=dict(range=[0, 0.2], tickmode="array", tickvals=RADAR_TICKS, ticktext=["0", "0.05", "0.1", "0.15", "0.2"],
                    angle=90, tickangle=90, showline=False, ticks="", gridcolor="#CFCFCF", gridwidth=1,
                    tickfont=dict(size=19, color="#111111"), side="counterclockwise"),
    angularaxis=dict(type="category", categoryorder="array", categoryarray=RADAR_CATS, rotation=90,
                     direction="clockwise", showticklabels=False, ticks="", gridcolor="#CFCFCF", gridwidth=1,
                     showline=True, linecolor="#CFCFCF", linewidth=1))
for vals, col in [(HIGH_RISK, ORANGE), (LOW_RISK, LOWRISK)]:
    fig.add_trace(go.Scatterpolar(r=vals + vals[:1], theta=RADAR_CATS + RADAR_CATS[:1], mode="lines+markers",
                                  line=dict(color=col, width=2.3), marker=dict(size=9, color=col), subplot="polar",
                                  showlegend=False))
for name, col in [("High risk", ORANGE), ("Low risk", LOWRISK)]:
    fig.add_trace(go.Scatterpolar(r=[None], theta=[RADAR_CATS[0]], mode="markers", name=name,
                                  marker=dict(size=14, color=col), subplot="polar", showlegend=True))
layout["legend"] = dict(x=1778 / W, y=1 - 44 / H, xanchor="left", yanchor="top", font=dict(size=20, color="black"),
                        bgcolor="rgba(0,0,0,0)", itemsizing="constant", tracegroupgap=0)
# inner hole outline
hr = RAD_R * HOLE
shapes.append(dict(type="circle", xref="paper", yref="paper", x0=(RAD_CX - hr) / W, x1=(RAD_CX + hr) / W,
                   y0=1 - (RAD_CY + hr) / H, y1=1 - (RAD_CY - hr) / H, line=dict(color="#D8D8D8", width=1)))
n_cat = len(RADAR_CATS)
for i, name in enumerate(RADAR_CATS):
    th = 2 * math.pi * i / n_cat
    lx = RAD_CX + 1.2 * RAD_R * math.sin(th)
    ly = RAD_CY - 1.2 * RAD_R * math.cos(th)
    label(lx, ly, name, 14.5, color="#111111")
label(1171, 16, "<b>D</b>", 29)

# ---------- GSVA bars (E) ----------
e_col = [ORANGE if t > E_cutoff else ("#00EE00" if t < -E_cutoff else "#CAC8C8") for t in E_t]
e_txt = ["black" if abs(t) > E_cutoff else "#BDBDBD" for t in E_t]
ex, ey = new_axes(
    dom_x(1192.3, 1960.8), dom_y(896.4, 1852.0),
    dict(range=[-20.55, 12.0], tickmode="array", tickvals=[-20, -10, 0, 10], ticktext=["-20", "-10", "0", "10"],
         ticks="outside", ticklen=4, tickcolor="#444444", showline=True, mirror=True, linecolor="#555555",
         linewidth=1.3, showgrid=False, zeroline=False, tickfont=dict(size=13.5, color="#333333"),
         title=dict(text="t value of GSVA score, High risk  versus Low risk",
                    font=dict(size=15.5, color="black"), standoff=3)),
    dict(type="category", categoryorder="array", categoryarray=E_names, range=[49.57, -0.62], showticklabels=False,
         showline=True, mirror=True, linecolor="#555555", linewidth=1.3, showgrid=False, zeroline=False, ticks=""))
fig.add_trace(go.Bar(x=E_t, y=E_names, orientation="h", width=0.9, marker=dict(color=e_col, line=dict(width=0)),
                     xaxis=ex, yaxis=ey, showlegend=False))
for v in (-E_cutoff, E_cutoff):
    shapes.append(dict(type="line", xref=ex, yref=ey + " domain", x0=v, x1=v, y0=0, y1=1, layer="above",
                       line=dict(color="white", width=1.5, dash="dash")))
# pathway names sit at the zero line (drawn above the dashed guide lines)
for name, t, col in zip(E_names, E_t, e_txt):
    ann.append(dict(x=0, y=name, xref=ex, yref=ey, text=name, showarrow=False,
                    xanchor="right" if t > 0 else "left", xshift=-2 if t > 0 else 2,
                    font=dict(size=12.5, color=col, family=SANS)))
label(1171, 911, "<b>E</b>", 29)

layout["annotations"] = ann
layout["shapes"] = shapes
fig.update_layout(**layout)
fig.write_html("out.html", config={"displayModeBar": False},
               post_script="document.body.style.margin='0';document.body.style.overflow='hidden';")
